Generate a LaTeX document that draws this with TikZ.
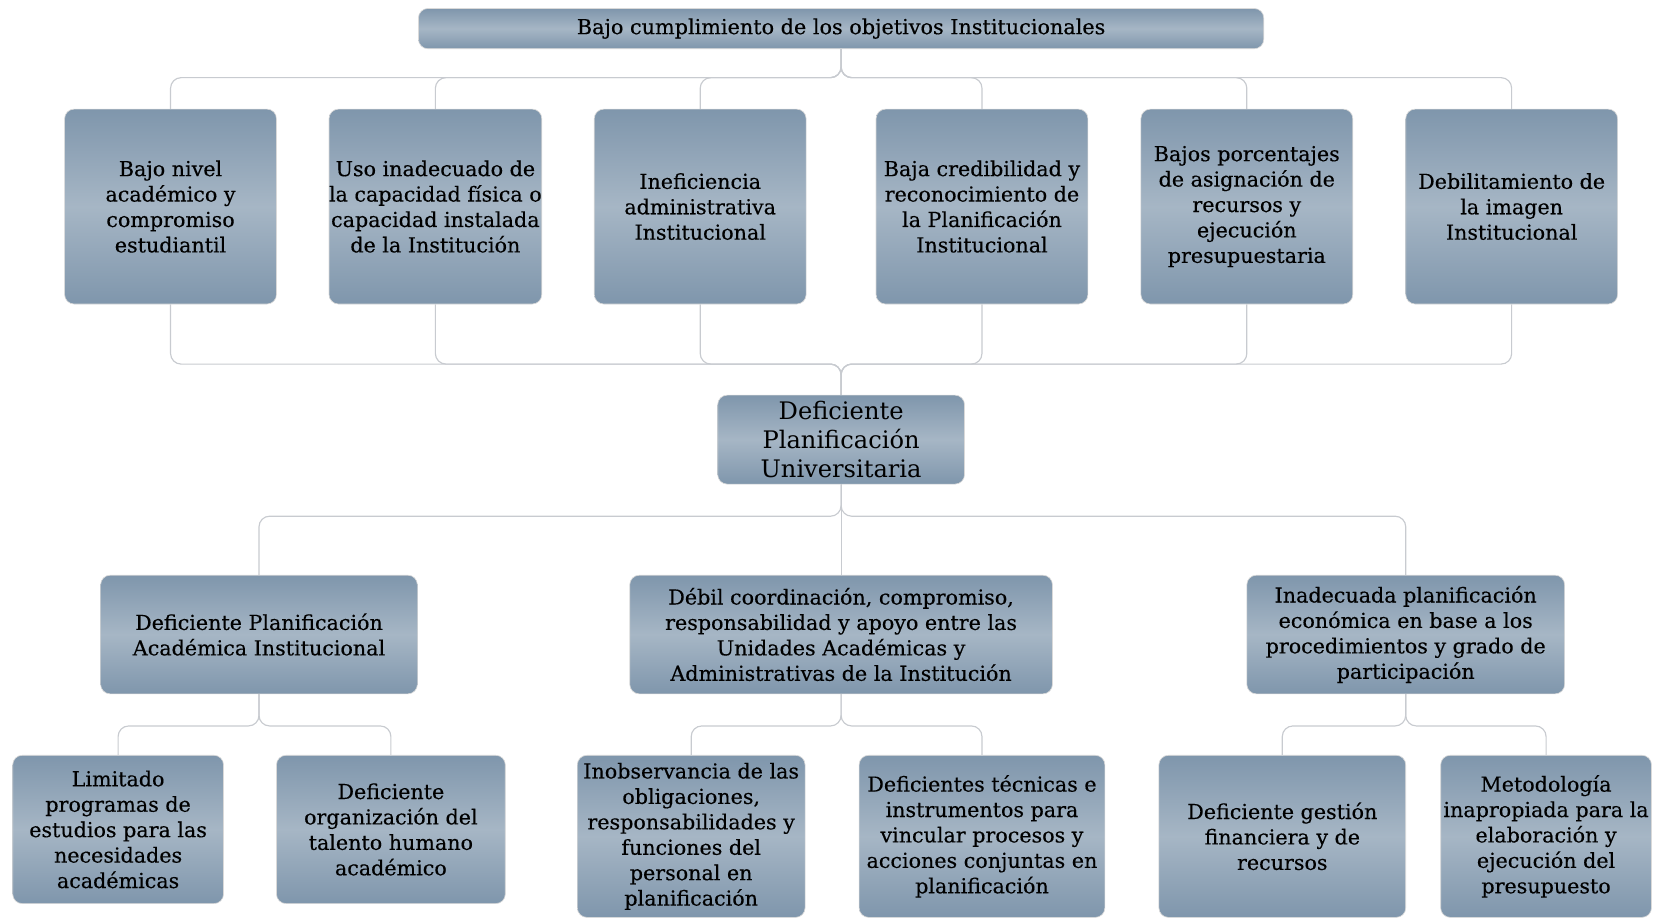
\documentclass[tikz,border=0pt]{standalone}
\usepackage{fontspec}
\setmainfont{DejaVu Serif}[FakeBold=0.35]
\newfontfamily\plainserif{DejaVu Serif}
\definecolor{boxedge}{HTML}{7F96AC}
\definecolor{boxmid}{HTML}{A6B6C5}
\definecolor{linkc}{HTML}{C8CBD0}
\tikzset{
  box/.style={rounded corners=9pt, top color=boxedge, bottom color=boxedge, middle color=boxmid,
    draw=black!15, line width=0.6pt, align=center, inner sep=0pt,
    font=\fontsize{19.5}{24}\selectfont},
  link/.style={draw=linkc, line width=1.1pt, rounded corners=10pt},
}
\begin{document}
\begin{tikzpicture}[x=1pt,y=-1pt]
\useasboundingbox (0,0) rectangle (1568,868);
% top
\node[box, minimum width=798pt, minimum height=38pt, font=\fontsize{19.6}{23}\selectfont] (top) at (794,27) {Bajo cumplimiento de los objetivos Institucionales};
% row 1
\node[box, minimum width=200pt, minimum height=184pt] (a1) at (161,195) {Bajo nivel\\académico y\\compromiso\\estudiantil};
\node[box, minimum width=200pt, minimum height=184pt] (a2) at (411,195) {Uso inadecuado de\\la capacidad física o\\capacidad instalada\\de la Institución};
\node[box, minimum width=200pt, minimum height=184pt] (a3) at (661,195) {Ineficiencia\\administrativa\\Institucional};
\node[box, minimum width=200pt, minimum height=184pt] (a4) at (927,195) {Baja credibilidad y\\reconocimiento de\\la Planificación\\Institucional};
\node[box, minimum width=200pt, minimum height=184pt] (a5) at (1177,195) {Bajos porcentajes\\de asignación de\\recursos y\\ejecución\\presupuestaria};
\node[box, minimum width=200pt, minimum height=184pt] (a6) at (1427,195) {Debilitamiento de\\la imagen\\Institucional};
% center
\node[box, minimum width=233pt, minimum height=84pt, font=\plainserif\fontsize{22.8}{27.5}\selectfont] (c) at (794,415) {Deficiente\\Planificación\\Universitaria};
% row 2
\node[box, minimum width=299pt, minimum height=112pt] (b1) at (244.5,599) {Deficiente Planificación\\Académica Institucional};
\node[box, minimum width=399pt, minimum height=112pt] (b2) at (794,599) {Débil coordinación, compromiso,\\responsabilidad y apoyo entre las\\Unidades Académicas y\\Administrativas de la Institución};
\node[box, minimum width=300pt, minimum height=112pt] (b3) at (1327,599) {Inadecuada planificación\\económica en base a los\\procedimientos y grado de\\participación};
% row 3
\node[box, minimum width=199pt, minimum height=140pt] (l1) at (111.5,783) {Limitado\\programas de\\estudios para las\\necesidades\\académicas};
\node[box, minimum width=216pt, minimum height=140pt] (l2) at (369,783) {Deficiente\\organización del\\talento humano\\académico};
\node[box, minimum width=215pt, minimum height=153pt] (m1) at (652.5,789.5) {Inobservancia de las\\obligaciones,\\responsabilidades y\\funciones del\\personal en\\planificación};
\node[box, minimum width=232pt, minimum height=153pt] (m2) at (927,789.5) {Deficientes técnicas e\\instrumentos para\\vincular procesos y\\acciones conjuntas en\\planificación};
\node[box, minimum width=233pt, minimum height=153pt] (r1) at (1210.5,789.5) {Deficiente gestión\\financiera y de\\recursos};
\node[box, minimum width=199pt, minimum height=153pt] (r2) at (1459.5,789.5) {Metodología\\inapropiada para la\\elaboración y\\ejecución del\\presupuesto};
% connectors
\foreach \n in {a1,a2,a3,a4,a5,a6}{
  \draw[link] (top.south) -- ++(0,27) -| (\n.north);
  \draw[link] (c.north) -- ++(0,-29) -| (\n.south);
}
\draw[link] (c.south) -- ++(0,30) -| (b1.north);
\draw[link] (c.south) -- (b2.north);
\draw[link] (c.south) -- ++(0,30) -| (b3.north);
\draw[link] (b1.south) -- ++(0,30) -| (l1.north);
\draw[link] (b1.south) -- ++(0,30) -| (l2.north);
\draw[link] (b2.south) -- ++(0,30) -| (m1.north);
\draw[link] (b2.south) -- ++(0,30) -| (m2.north);
\draw[link] (b3.south) -- ++(0,30) -| (r1.north);
\draw[link] (b3.south) -- ++(0,30) -| (r2.north);
\end{tikzpicture}
\end{document}
